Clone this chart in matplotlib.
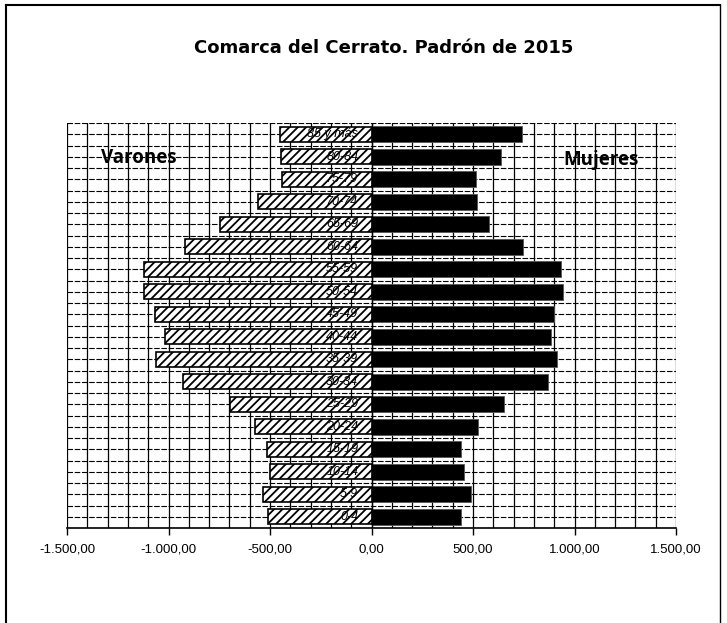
import matplotlib
matplotlib.use("Agg")
import matplotlib.pyplot as plt
import numpy as np
from matplotlib.lines import Line2D

plt.rcParams['font.family'] = ['Liberation Sans', 'DejaVu Sans']
plt.rcParams['axes.unicode_minus'] = False
plt.rcParams['hatch.linewidth'] = 1.3

categories = ["0-4", "5-9", "10-14", "15-19", "20-24", "25-29", "30-34", "35-39",
              "40-44", "45-49", "50-54", "55-59", "60-64", "65-69", "70-74",
              "75-79", "80-84", "85 y más"]
varones = [512, 535, 499, 515, 576, 697, 929, 1060, 1016, 1066, 1119, 1120,
           918, 748, 561, 439, 444, 449]
mujeres = [442, 491, 458, 439, 524, 654, 867, 916, 883, 900, 944, 935,
           748, 581, 519, 514, 638, 743]
xticks = [-1500, -1000, -500, 0, 500, 1000, 1500]
xtick_labels = ["-1.500,00", "-1.000,00", "-500,00", "0,00", "500,00", "1.000,00", "1.500,00"]
title = "Comarca del Cerrato. Padrón de 2015"

fig = plt.figure(figsize=(7.27, 6.23), dpi=100)
ax = fig.add_axes([67/727, 1-528/623, (676-67)/727, (528-123)/623])

y = np.arange(len(categories))
ax.barh(y, [-v for v in varones], height=0.66, color='white', edgecolor='black',
        hatch='////', linewidth=1.2, zorder=3)
ax.barh(y, mujeres, height=0.72, color='black', edgecolor='#555555', linewidth=0.6, zorder=3)

for yi, lab in zip(y, categories):
    ax.text(-65, yi, lab, ha='right', va='center', fontsize=9, style='italic',
            color='black', zorder=4)

ax.set_xlim(-1500, 1500)
ax.set_ylim(-0.5, len(categories) - 0.5)

# grid
for gx in np.arange(-1500, 1501, 100):
    ax.axvline(gx, color='black', lw=0.9, zorder=1)
for gy in np.arange(-0.5, len(categories), 0.5):
    ax.axhline(gy, color='black', lw=0.8, ls=(0, (5, 1.5)), zorder=1)
ax.axvline(0, color='black', lw=1.0, zorder=5)

for s in ['top', 'right', 'left']:
    ax.spines[s].set_visible(False)
ax.spines['bottom'].set_linewidth(1.2)
ax.set_yticks([])
ax.set_xticks(xticks)
ax.set_xticklabels(xtick_labels, fontsize=9.5)
ax.tick_params(axis='x', direction='out', length=5, width=1.0, pad=6)

ax.text(-1145, 15.95, "Varones", ha='center', va='center', fontsize=13.5,
        fontweight='bold', family='Open Sans', zorder=6)
ax.text(1130, 15.85, "Mujeres", ha='center', va='center', fontsize=13.5,
        fontweight='bold', family='Open Sans', zorder=6)

fig.text(384/727, 1-48/623, title, ha='center', va='center', fontsize=13,
         fontweight='bold', family='DejaVu Sans')

# outer frame
fl = 6/727; fr = 720/727; ft = 1-5/623
fig.add_artist(Line2D([fl, fl], [0, ft], color='black', lw=1.5, transform=fig.transFigure))
fig.add_artist(Line2D([fl, fr], [ft, ft], color='black', lw=1.5, transform=fig.transFigure))
fig.add_artist(Line2D([fr, fr], [0, ft], color='black', lw=1.0, transform=fig.transFigure))

fig.savefig("out.png", dpi=100)
